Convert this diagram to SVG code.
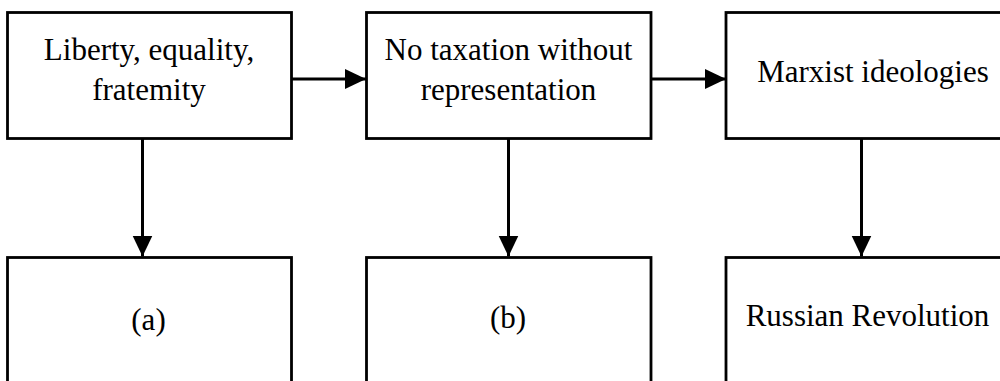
<svg xmlns="http://www.w3.org/2000/svg" width="1000" height="381" viewBox="0 0 1000 381">
  <style>
    .box { fill: #ffffff; stroke: #000000; stroke-width: 2.8; }
    .label { font-family: 'Liberation Serif', 'DejaVu Serif', serif; font-size: 31px; fill: #000000; text-anchor: middle; }
    .link { stroke: #000000; stroke-width: 3; fill: none; marker-end: url(#arrow); }
  </style>
  <defs>
    <marker id="arrow" markerUnits="userSpaceOnUse" markerWidth="22" markerHeight="21" refX="21" refY="10" orient="auto">
      <path d="M0,0 L21,10 L0,20 Z" fill="#000000"/>
    </marker>
  </defs>
  <rect width="1000" height="381" fill="#ffffff"/>

  <!-- top row -->
  <g id="node-liberty">
    <rect class="box" x="7.5" y="12.5" width="284" height="126"/>
    <text class="label" x="149" y="60">Liberty, equality,</text>
    <text class="label" x="149" y="100">fratemity</text>
  </g>
  <g id="node-taxation">
    <rect class="box" x="366.5" y="12.5" width="284.5" height="126"/>
    <text class="label" x="508.5" y="59.5">No taxation without</text>
    <text class="label" x="508.5" y="99.5">representation</text>
  </g>
  <g id="node-marxist">
    <rect class="box" x="726" y="12.5" width="300" height="126"/>
    <text class="label" x="873" y="81.5">Marxist ideologies</text>
  </g>

  <!-- bottom row -->
  <g id="node-a">
    <rect class="box" x="7.5" y="257.5" width="284" height="140"/>
    <text class="label" x="148.5" y="329.5">(a)</text>
  </g>
  <g id="node-b">
    <rect class="box" x="366.5" y="257.5" width="284.5" height="140"/>
    <text class="label" x="508" y="328">(b)</text>
  </g>
  <g id="node-russian">
    <rect class="box" x="726" y="257.5" width="300" height="140"/>
    <text class="label" x="867.5" y="326">Russian Revolution</text>
  </g>

  <!-- connectors -->
  <g id="connectors">
    <line class="link" x1="291.5" y1="79" x2="366" y2="79"/>
    <line class="link" x1="651" y1="79" x2="726" y2="79"/>
    <line class="link" x1="142.5" y1="138.5" x2="142.5" y2="256.5"/>
    <line class="link" x1="508.5" y1="138.5" x2="508.5" y2="256.5"/>
    <line class="link" x1="861.5" y1="138.5" x2="861.5" y2="256.5"/>
  </g>
</svg>
